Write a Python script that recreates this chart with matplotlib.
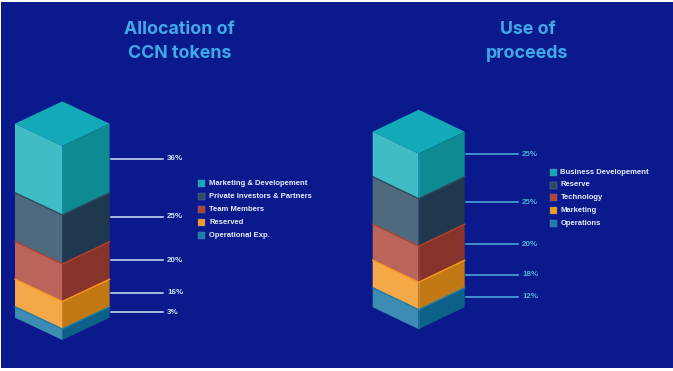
import matplotlib
matplotlib.use('Agg')
from matplotlib import pyplot as plt
from matplotlib.patches import Rectangle

# numbers printed next to the stacks
left_labels = ['36%', '25%', '20%', '16%', '3%']
right_labels = ['25%', '25%', '20%', '18%', '12%']

# drawn thickness of each block (not quite the printed %)
left_heights = [69, 49, 37.5, 27.5, 11]
right_heights = [45, 47.5, 36, 27.5, 19.5]

# where the leader line hits each stack
left_line_y = [158.7, 217, 260, 292.7, 312]
right_line_y = [154, 202, 244, 274.7, 297]

left_names = ['Marketing & Developement', 'Private Investors & Partners', 'Team Members', 'Reserved', 'Operational Exp.']
right_names = ['Business Developement', 'Reserve', 'Technology', 'Marketing', 'Operations']

# left face, right face, edge/legend colour
colors = [('#3fbcc4', '#0e8a92', '#12a9b8'),
          ('#4f6a7e', '#1f384e', '#2e4a60'),
          ('#bb655a', '#87322a', '#b5432f'),
          ('#f5a848', '#c27814', '#f89c1e'),
          ('#3d8cb4', '#0d6088', '#1f7da6')]

BG = '#0a1a8c'
TITLE = '#3fa9ea'
small_font = 'Liberation Sans'
title_font = 'Inter'


def draw_stack(ax, x0, half, top, dy, heights, labels, line_y, line_x, line_color):
  xc = x0 + half
  x1 = x0 + 2 * half
  # top diamond
  ax.fill([x0, xc, x1, xc], [top, top - dy, top, top + dy], color=colors[0][2], lw=0)
  y = top
  for i, h in enumerate(heights):
    ax.fill([x0, xc, xc, x0], [y, y + dy, y + dy + h, y + h], color=colors[i][0], lw=0)
    ax.fill([xc, x1, x1, xc], [y + dy, y, y + h, y + dy + h], color=colors[i][1], lw=0)
    if i > 0:
      ax.plot([x0, xc, x1], [y, y + dy, y], color=colors[i][2], lw=1.0, solid_joinstyle='miter')
    ax.plot([xc, xc], [y + dy, y + dy + h], color=colors[i][2], lw=0.5, alpha=0.7)
    y = y + h
  for ly, lab in zip(line_y, labels):
    ax.plot([line_x, line_x + 52], [ly, ly], color=line_color, lw=1.1)
    ax.text(line_x + 56, ly, lab, color=line_color, fontsize=5.8, fontweight='bold',
            family=small_font, va='center', ha='left')


def draw_legend(ax, x, y_start, step, names):
  for i, name in enumerate(names):
    y = y_start + i * step
    ax.add_patch(Rectangle((x, y - 3.5), 7, 7, facecolor=colors[i][2], edgecolor='#5f7fb0', lw=0.3))
    ax.text(x + 11, y, name, color='#e8eefa', fontsize=5.5, fontweight='bold',
            family=small_font, va='center', ha='left')


fig = plt.figure(figsize=(6.73, 3.71), dpi=100, facecolor='white')
ax = fig.add_axes([0, 0, 1, 1])
ax.set_xlim(0, 673)
ax.set_ylim(371, 0)
ax.axis('off')
ax.add_patch(Rectangle((1, 2), 672, 366, facecolor=BG, edgecolor='none'))

ax.text(179.5, 30, 'Allocation of', color=TITLE, fontsize=12.8, fontweight='bold', family=title_font, ha='center', va='center')
ax.text(179.5, 53, 'CCN tokens', color=TITLE, fontsize=12.8, fontweight='bold', family=title_font, ha='center', va='center')
ax.text(527.5, 30, 'Use of', color=TITLE, fontsize=12.8, fontweight='bold', family=title_font, ha='center', va='center')
ax.text(527.5, 53, 'proceeds', color=TITLE, fontsize=12.8, fontweight='bold', family=title_font, ha='center', va='center')

draw_stack(ax, 15, 47.3, 123.7, 22.3, left_heights, left_labels, left_line_y, 111, '#cfe3f5')
draw_stack(ax, 372.7, 46, 131.7, 22, right_heights, right_labels, right_line_y, 466, '#4fb0dc')

draw_legend(ax, 198, 183.5, 13, left_names)
draw_legend(ax, 549.5, 172.3, 12.7, right_names)

plt.savefig('out.png', dpi=100, facecolor='white')
